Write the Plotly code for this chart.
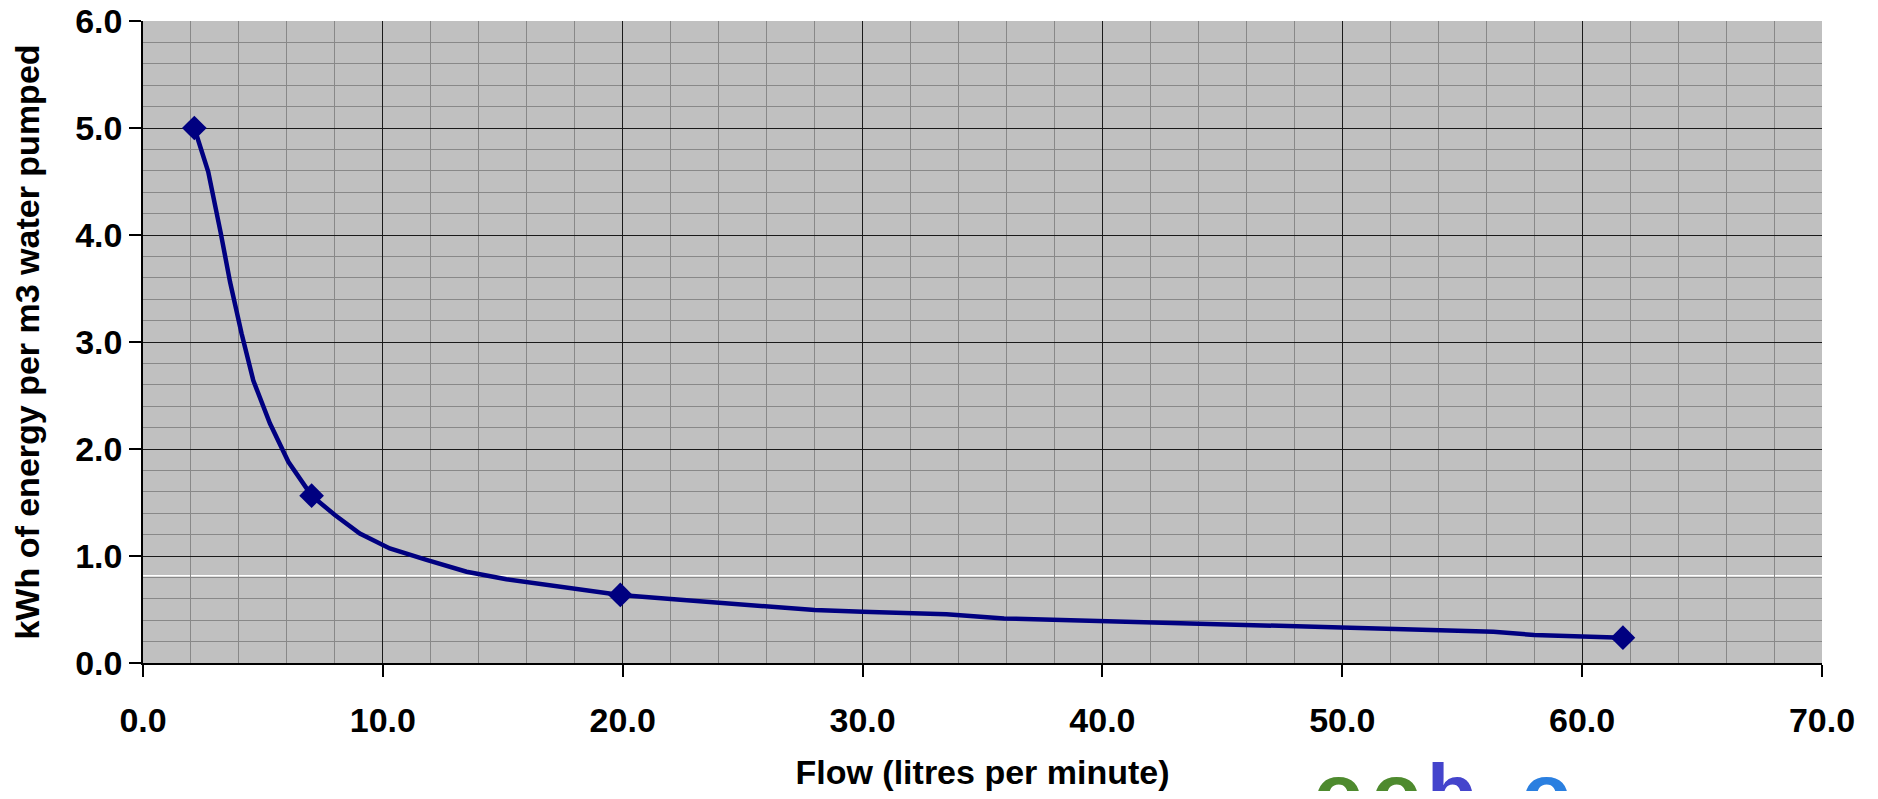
import plotly.graph_objects as go

# Smoothed curve
curve_x = [2.14, 2.72, 3.24, 3.63, 4.11, 4.6, 5.29, 6.06, 7.03, 8.0, 9.04, 10.29,
           11.82, 13.49, 15.15, 16.82, 17.93, 19.9, 22.0, 24.0, 26.0, 28.0, 30.0,
           33.5, 35.9, 40.0, 43.2, 50.0, 56.3, 58.0, 60.0, 61.7]
curve_y = [5.0, 4.59, 4.02, 3.56, 3.08, 2.64, 2.24, 1.88, 1.564, 1.383, 1.21, 1.07,
           0.963, 0.853, 0.782, 0.729, 0.692, 0.636, 0.598, 0.564, 0.526, 0.495, 0.48,
           0.455, 0.417, 0.393, 0.371, 0.33, 0.293, 0.262, 0.246, 0.237]

# Measured points (markers)
point_x = [2.14, 7.03, 19.9, 61.7]
point_y = [5.0, 1.564, 0.636, 0.237]

x_title = "Flow (litres per minute)"
y_title = "kWh of energy per m3 water pumped"

FONT = "Liberation Sans, Arial, sans-serif"
NAVY = "#000080"

# page body has an 8px margin; figure sized to fit the window without scrollbars
W, H = 1862, 783
L, T, R_EDGE, B_EDGE = 135, 13, 1814, 655

fig = go.Figure()
fig.add_trace(go.Scatter(x=curve_x, y=curve_y, mode="lines",
                         line=dict(color=NAVY, width=4.5), hoverinfo="skip",
                         showlegend=False))
fig.add_trace(go.Scatter(x=point_x, y=point_y, mode="markers",
                         marker=dict(symbol="diamond", size=19, color=NAVY,
                                     line=dict(width=0)),
                         showlegend=False))

# white artefact line seen just above the 0.8 gridline
fig.add_shape(type="line", xref="paper", x0=0, x1=1, yref="y", y0=0.815, y1=0.815,
              line=dict(color="white", width=1.5), layer="below")

axis_font = dict(family=FONT, size=34, color="black")
fig.update_layout(
    width=W, height=H,
    margin=dict(l=L, r=W - R_EDGE, t=T, b=H - B_EDGE, autoexpand=False),
    paper_bgcolor="white", plot_bgcolor="#c0c0c0",
    font=dict(family=FONT, color="black"),
    xaxis=dict(range=[0, 70], dtick=10, tick0=0, tickformat=".1f",
               automargin=False, ticklabeloverflow="allow", ticklabelstandoff=14,
               showgrid=True, gridcolor="#1a1a1a", gridwidth=1,
               minor=dict(dtick=2, showgrid=True, gridcolor="#888888", gridwidth=1),
               showline=True, linecolor="black", linewidth=1.5,
               ticks="outside", ticklen=12, tickcolor="black", tickwidth=1.5,
               zeroline=False,
               tickfont=dict(family=FONT, size=34, color="black", weight="bold"),
               title=dict(text="<b>" + x_title + "</b>", font=axis_font, standoff=28)),
    yaxis=dict(range=[0, 6], dtick=1, tick0=0, tickformat=".1f",
               automargin=False, ticklabeloverflow="allow",
               showgrid=True, gridcolor="#1a1a1a", gridwidth=1,
               minor=dict(dtick=0.2, showgrid=True, gridcolor="#888888", gridwidth=1),
               showline=True, linecolor="black", linewidth=1.5,
               ticks="outside", ticklen=12, tickcolor="black", tickwidth=1.5,
               zeroline=False,
               tickfont=dict(family=FONT, size=34, color="black", weight="bold"),
               title=dict(text="<b>" + y_title + "</b>", font=axis_font, standoff=34)),
)

# partial logo at bottom right (cut off by page edge, as in the source image)
logo = [("o", 1330, "#4e8a2e"), ("o", 1388, "#4e8a2e"), ("b", 1443, "#4444cc"),
        ("o", 1538, "#2a7fe0")]
for ch, px, col in logo:
    fig.add_annotation(text="<b>" + ch + "</b>", xref="paper", yref="paper",
                       x=(px - L) / (R_EDGE - L), y=(B_EDGE - 738) / (B_EDGE - T),
                       xanchor="center", yanchor="top", showarrow=False,
                       font=dict(family=FONT, size=80, color=col))

fig.write_html("out.html")
